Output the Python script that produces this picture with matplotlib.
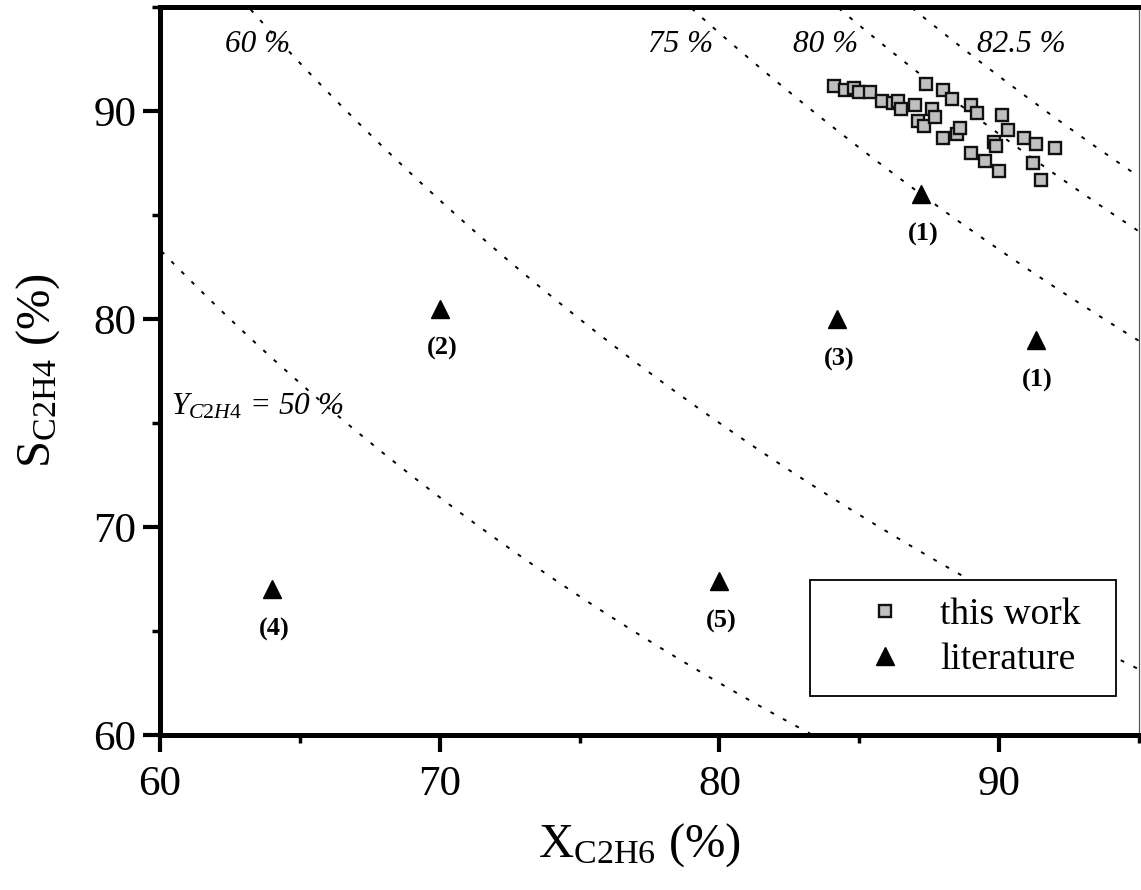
import numpy as np
import matplotlib
matplotlib.use("Agg")
import matplotlib.pyplot as plt
from matplotlib.patches import Rectangle
from matplotlib.ticker import MultipleLocator

plt.rcParams["font.family"] = ["Liberation Serif", "DejaVu Serif"]
plt.rcParams["mathtext.fontset"] = "custom"
plt.rcParams["mathtext.rm"] = "Liberation Serif"
plt.rcParams["mathtext.it"] = "Liberation Serif:italic"
plt.rcParams["mathtext.bf"] = "Liberation Serif:bold"

# Ethane conversion / ethylene selectivity, this work (%)
work_x = [84.1, 84.5, 84.8, 85.0, 85.4, 85.8, 86.2, 86.4, 86.5, 87.0,
          87.4, 87.1, 87.3, 87.6, 87.7, 88.0, 88.3, 88.0, 88.5, 88.6,
          89.0, 89.2, 89.0, 89.5, 89.8, 89.9, 90.0, 90.1, 90.3, 90.9,
          91.3, 91.2, 91.5, 92.0]
work_s = [91.2, 91.0, 91.1, 90.9, 90.9, 90.5, 90.4, 90.5, 90.1, 90.3,
          91.3, 89.5, 89.3, 90.1, 89.7, 91.0, 90.6, 88.7, 88.9, 89.2,
          90.3, 89.9, 88.0, 87.6, 88.5, 88.3, 87.1, 89.8, 89.1, 88.7,
          88.4, 87.5, 86.7, 88.2]

# Literature results
lit_x = [64.0, 70.0, 80.0, 84.2, 87.2, 91.3]
lit_s = [67.0, 80.5, 67.4, 80.0, 86.0, 79.0]
lit_refs = ["(4)", "(2)", "(5)", "(3)", "(1)", "(1)"]

# Iso-yield curves Y = X * S / 100
yield_levels = [50, 60, 75, 80, 82.5]
yield_texts = ["$\\mathit{Y_{C2H4}}$ = 50 %", "60 %", "75 %", "80 %", "82.5 %"]
yield_text_pos = [(60.4, 75.8), (63.5, 93.2), (78.6, 93.2), (83.8, 93.2), (90.8, 93.2)]

x_ticks = [60, 70, 80, 90]
y_ticks = [60, 70, 80, 90]

fig = plt.figure(figsize=(11.41, 8.90), dpi=100)
ax = fig.add_axes([160 / 1141, 1 - 735 / 890, 979 / 1141, 728 / 890])

xg = np.linspace(55, 100, 600)
for y in yield_levels:
    ax.plot(xg, 100.0 * y / xg, color="black", lw=1.4,
            linestyle=(0, (2.0, 5.3)), zorder=1)

for (tx, ty), txt in zip(yield_text_pos, yield_texts):
    ha = "left" if txt.startswith("$") else "center"
    ax.text(tx, ty, txt, fontsize=22.5, style="italic", ha=ha, va="center",
            zorder=3)

ax.plot(work_x, work_s, linestyle="none", marker="s", markersize=9,
        markerfacecolor="#c0c0c0", markeredgecolor="#111111",
        markeredgewidth=1.7, label="this work", zorder=6)
ax.plot(lit_x, lit_s, linestyle="none", marker="^", markersize=12.5,
        color="black", label="literature", zorder=6)

for x, s, r in zip(lit_x, lit_s, lit_refs):
    ax.annotate(r, (x, s), xytext=(1.5, -29), textcoords="offset points",
                ha="center", va="center", fontsize=19, fontweight="bold",
                zorder=6)

ax.set_xlim(60, 95)
ax.set_ylim(60, 95)
ax.set_xticks(x_ticks)
ax.set_yticks(y_ticks)
ax.xaxis.set_minor_locator(MultipleLocator(5))
ax.yaxis.set_minor_locator(MultipleLocator(5))
ax.tick_params(which="major", direction="out", length=12, width=3,
               labelsize=31, pad=5)
ax.tick_params(axis="x", which="major", pad=10)
ax.tick_params(which="minor", direction="out", length=6, width=2.5)

for side in ("left", "top", "bottom"):
    ax.spines[side].set_linewidth(3.6)
ax.spines["right"].set_linewidth(0.9)
ax.spines["right"].set_color("#555555")

ax.set_xlabel("X$_{\\mathrm{C2H6}}$ (%)", fontsize=35)
ax.set_ylabel("S$_{\\mathrm{C2H4}}$ (%)", fontsize=35)
ax.xaxis.set_label_coords(0.49, -0.118)
ax.yaxis.set_label_coords(-0.1, 0.5)

# Legend frame with white fill, drawn under the legend entries
ax.add_patch(Rectangle((0.664, 0.0536), 0.3125, 0.159, transform=ax.transAxes,
                       facecolor="white", edgecolor="black", lw=1.3,
                       zorder=4))
leg = ax.legend(loc="center left", bbox_to_anchor=(0.712, 0.1346),
                frameon=False, fontsize=27, borderpad=0, borderaxespad=0,
                handlelength=1.5, handletextpad=0.72, labelspacing=0.28,
                numpoints=1)
leg.set_zorder(7)

fig.savefig("out.png", dpi=100)
